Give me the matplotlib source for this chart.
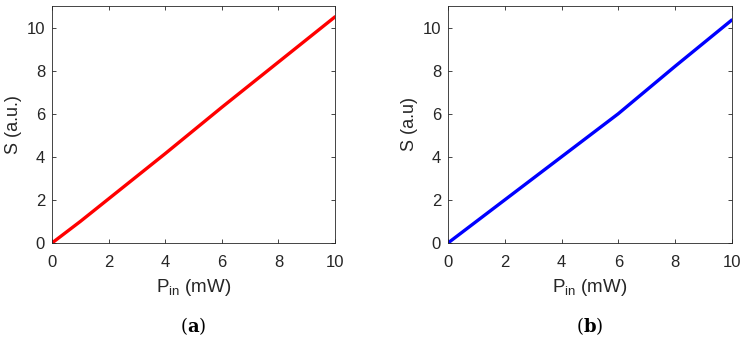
import matplotlib
matplotlib.use('Agg')
import matplotlib.pyplot as plt

# --- Data ---
p_in_a = [0, 0.5, 1, 2, 4, 6, 8, 10]
s_a = [0, 0.5, 1.0, 2.05, 4.15, 6.3, 8.4, 10.5]

p_in_b = [0, 2, 4, 6, 8, 10]
s_b = [0, 2.0, 4.0, 6.0, 8.2, 10.35]

xticks = [0, 2, 4, 6, 8, 10]
yticks = [0, 2, 4, 6, 8, 10]

plt.rcParams['font.family'] = ['Liberation Sans', 'DejaVu Sans']
plt.rcParams['mathtext.fontset'] = 'custom'
plt.rcParams['mathtext.rm'] = 'Liberation Sans'

fig = plt.figure(figsize=(7.45, 3.41), dpi=100)
ax_a = fig.add_axes([0.0698, 0.2874, 0.380, 0.695])
ax_b = fig.add_axes([0.6013, 0.2874, 0.381, 0.695])

panels = [
    (ax_a, p_in_a, s_a, '#ff0000', 'S (a.u.)', 'a'),
    (ax_b, p_in_b, s_b, '#0000ff', 'S (a.u)', 'b'),
]

for ax, x, y, color, ylab, tag in panels:
    ax.plot(x, y, color=color, linewidth=2.4, solid_capstyle='round')
    ax.set_xlim(0, 10)
    ax.set_ylim(0, 11)
    ax.set_xticks(xticks)
    ax.set_yticks(yticks)
    ax.tick_params(direction='in', top=True, right=True, length=3,
                   width=0.6, labelsize=12, colors='#262626')
    ax.tick_params(axis='x', pad=9)
    ax.tick_params(axis='y', pad=5)
    for sp in ax.spines.values():
        sp.set_linewidth(0.6)
        sp.set_color('#262626')
    ax.set_xlabel(r'P$_{\mathrm{in}}$ (mW)', fontsize=13.5, color='#262626', labelpad=5)
    ax.set_ylabel(ylab, fontsize=13, color='#262626', labelpad=3)
    # caption under each panel: "(a)" with bold letter
    bb = ax.get_position()
    cx = (bb.x0 + bb.x1) / 2
    fig.text(cx, 0.045, r'($\mathbf{' + tag + r'}$)', ha='center', va='center',
             fontsize=13, family='DejaVu Serif', math_fontfamily='dejavuserif')

fig.savefig('out.png', dpi=100)
